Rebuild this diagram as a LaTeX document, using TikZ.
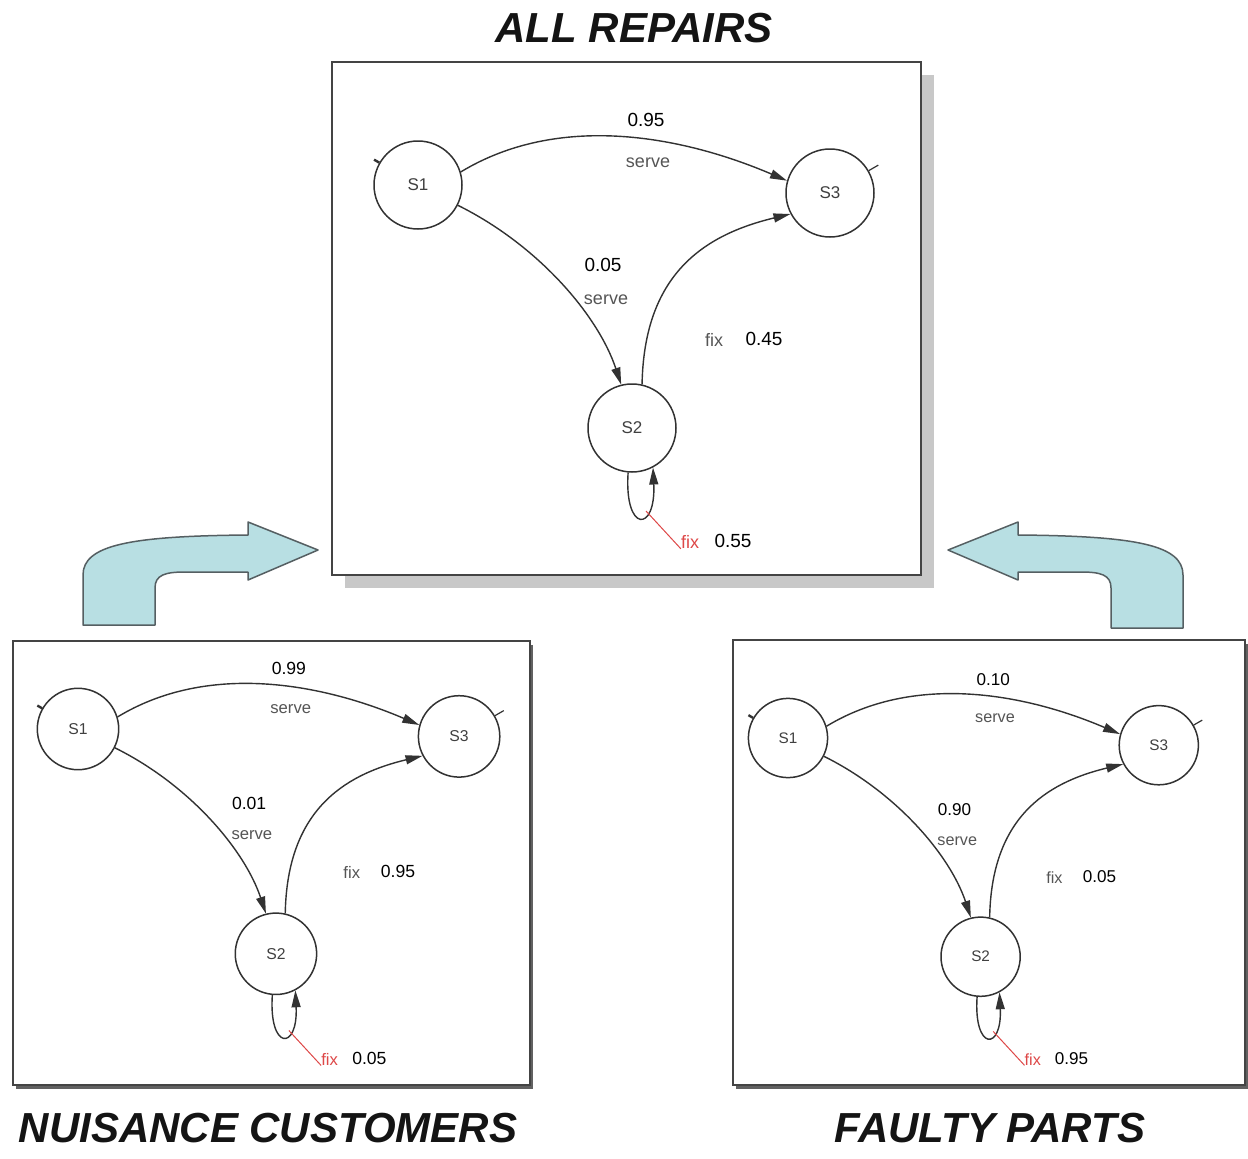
\documentclass[tikz,border=0pt]{standalone}
\usepackage{fontspec}
\setmainfont{Liberation Sans}
\usetikzlibrary{arrows.meta}

\definecolor{inkline}{RGB}{50,50,50}
\definecolor{softtext}{RGB}{85,85,85}
\definecolor{loopred}{RGB}{222,72,72}
\definecolor{bentfill}{RGB}{184,223,227}
\definecolor{bentedge}{RGB}{85,95,98}
\definecolor{shadowgray}{RGB}{200,200,200}
\definecolor{framegray}{RGB}{68,68,68}

\tikzset{
  state/.style={circle, draw=inkline, line width=1.5pt, minimum size=88pt, inner sep=0pt,
    font=\fontsize{17}{20}\selectfont, text=black!75},
  trans/.style={draw=inkline, line width=1.4pt, -{Triangle[length=17pt,width=9pt]}},
  prob/.style={inner sep=0pt, font=\fontsize{19}{22}\selectfont, text=black},
  act/.style={inner sep=0pt, font=\fontsize{18}{22}\selectfont, text=softtext},
  redact/.style={inner sep=0pt, font=\fontsize{18}{22}\selectfont, text=loopred},
  heading/.style={inner sep=0pt, font=\fontsize{42}{48}\selectfont\bfseries\itshape, text=black!92},
  frame/.style={draw=framegray, line width=2.2pt, fill=white},
  bent/.style={draw=bentedge, line width=1.5pt, fill=bentfill, line join=round},
}

% One three-state chain: #1 name prefix, (#2,#3) centre of S1, #4 scale,
% #5 S1->S3, #6 S1->S2, #7 S2->S3, #8 S2->S2
\newcommand\markovpanel[8]{%
  \begin{scope}[shift={(#2,#3)}, scale=#4, transform shape]
    \node[state] (#1s1) at (0,0) {S1};
    \node[state] (#1s3) at (412,8) {S3};
    \node[state] (#1s2) at (214,243) {S2};
    % start and final marks
    \draw[inkline, line width=2.4pt] (#1s1.150) -- ++(150:6pt);
    \draw[inkline, line width=1.2pt] (#1s3.30) -- ++(30:11pt);
    % transitions
    \draw[trans] (#1s1.17) .. controls (140,-72) and (262,-50) .. (#1s3.164);
    \draw[trans] (#1s1.-27) .. controls (120,60) and (180,130) .. (#1s2.104);
    \draw[trans] (#1s2.77) .. controls (226,90) and (285,50) .. (#1s3.208);
    \draw[trans] (#1s2.-95) .. controls (206,348) and (238,348) .. (#1s2.-62);
    % labels
    \node[prob] (#1p13) at (228,-65) {#5};
    \node[act] (#1a13) at (230,-22) {serve};
    \node[prob] (#1p12) at (185,80) {#6};
    \node[act] (#1a12) at (188,115) {serve};
    \node[act] (#1a23) at (296,155) {fix};
    \node[prob] (#1p23) at (346,154) {#7};
    \node[redact] (#1a22) at (272,357) {fix};
    \node[prob] (#1p22) at (315,356) {#8};
    \coordinate (#1lp) at (228,326);
    \draw[loopred, line width=1pt] (#1lp) -- (#1a22.south west);
  \end{scope}}

\begin{document}
\begin{tikzpicture}[x=1pt, y=-1pt]
  \useasboundingbox[fill=white] (0,0) rectangle (1248,1159);

  % headings
  \node[heading] (ttop) at (634,28) {ALL REPAIRS};
  \node[heading] (tleft) at (268,1128) {NUISANCE CUSTOMERS};
  \node[heading] (tright) at (990,1128) {FAULTY PARTS};

  % frames with their shadows
  \fill[shadowgray] (345,75) rectangle (934,588);
  \draw[frame] (332,62) rectangle (921,575);
  \fill[black!62] (16,645) rectangle (533,1089);
  \draw[frame] (13,641) rectangle (530,1085);
  \fill[black!62] (736,644) rectangle (1248,1089);
  \draw[frame] (733,640) rectangle (1245,1085);

  % bent arrows pointing at the combined chain
  \path[bent] (83,625) -- (83,575) .. controls (83,545) and (130,536) .. (248,535)
    -- (248,522) -- (318,550) -- (248,580) -- (248,572) -- (185,572)
    .. controls (165,572) and (155,575) .. (155,588) -- (155,625) -- cycle;
  \begin{scope}[xshift=1266pt, xscale=-1]
    \path[bent] (83,628) -- (83,575) .. controls (83,545) and (130,536) .. (248,535)
      -- (248,522) -- (318,550) -- (248,580) -- (248,572) -- (185,572)
      .. controls (165,572) and (155,575) .. (155,588) -- (155,628) -- cycle;
  \end{scope}

  % chains
  \markovpanel{t}{418}{185}{1}{0.95}{0.05}{0.45}{0.55}
  \markovpanel{l}{78}{729}{0.925}{0.99}{0.01}{0.95}{0.05}
  \markovpanel{r}{788}{738}{0.9}{0.10}{0.90}{0.05}{0.95}
\end{tikzpicture}
\end{document}
